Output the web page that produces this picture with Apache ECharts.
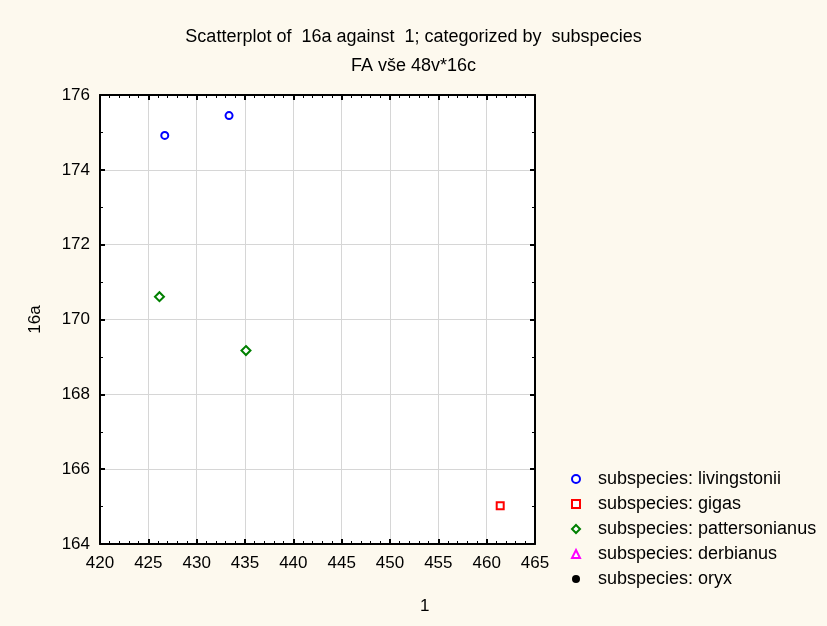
<!DOCTYPE html>
<html><head><meta charset="utf-8">
<script src="https://cdn.jsdelivr.net/npm/echarts@6/dist/echarts.min.js"></script>
<style>html,body{margin:0;padding:0;background:#fdf9ee;}#c{width:827px;height:626px;}</style>
</head><body><div id="c"></div>
<script>
var titleText = "Scatterplot of  16a against  1; categorized by  subspecies";
var subtitleText = "FA vše 48v*16c";
var xName = "1";
var yName = "16a";
var seriesNames = ["subspecies: livingstonii","subspecies: gigas","subspecies: pattersonianus","subspecies: derbianus","subspecies: oryx"];
var livingstonii = [[426.7,174.92],[433.35,175.45]];
var gigas = [[461.4,165.02]];
var pattersonianus = [[426.15,170.61],[435.1,169.17]];
var derbianus = [];
var oryx = [];
var xMin=420, xMax=465, xStep=5;
var yMin=164, yMax=176, yStep=2;

var font = "'Liberation Sans', Arial, sans-serif";
var chart = echarts.init(document.getElementById('c'));
function axisCommon(showLabel, minorSplit, margin){
  return {
    axisLine:{show:true,onZero:false,lineStyle:{color:'#000',width:2}},
    axisTick:{show:true,inside:true,length:5,lineStyle:{color:'#000',width:2}},
    minorTick:{show:true,splitNumber:minorSplit,length:3,lineStyle:{color:'#000',width:1}},
    axisLabel:{show:showLabel,color:'#000',fontSize:17,fontFamily:font,margin:margin},
    splitLine:{show:showLabel,lineStyle:{color:'#d6d6d6',width:1}}
  };
}
var xb = Object.assign({type:'value',position:'bottom',min:xMin,max:xMax,interval:xStep}, axisCommon(true,5,11));
var xt = Object.assign({type:'value',position:'top',min:xMin,max:xMax,interval:xStep}, axisCommon(false,5,8));
var yl = Object.assign({type:'value',position:'left',min:yMin,max:yMax,interval:yStep,name:yName,nameLocation:'middle',nameGap:56,nameTextStyle:{color:'#000',fontSize:17,fontFamily:font}}, axisCommon(true,2,10));
var yr = Object.assign({type:'value',position:'right',min:yMin,max:yMax,interval:yStep}, axisCommon(false,2,8));

function mk(name,data,symbol,size,fill,border,bw){
  return {type:'scatter',name:name,data:data,symbol:symbol,symbolSize:size,xAxisIndex:0,yAxisIndex:0,
    itemStyle:{color:fill,borderColor:border,borderWidth:bw,opacity:1},emphasis:{disabled:true},z:5};
}
chart.setOption({
  animation:false,
  backgroundColor:'#fdf9ee',
  title:[
    {text:titleText,left:'center',top:23,textStyle:{fontSize:18,fontWeight:'normal',color:'#000',fontFamily:font}},
    {text:subtitleText,left:'center',top:52,textStyle:{fontSize:18,fontWeight:'normal',color:'#000',fontFamily:font}}
  ],
  graphic:[{type:'text',left:420,top:598,style:{text:xName,fontSize:17,fontFamily:font,fill:'#000'}}],
  grid:{left:100,right:292,top:95,bottom:82,show:true,backgroundColor:'#ffffff',borderWidth:0},
  xAxis:[xb,xt],
  yAxis:[yl,yr],
  legend:{orient:'vertical',left:566,top:465,itemGap:7,itemWidth:8,itemHeight:8,
    textStyle:{fontSize:18,color:'#000',fontFamily:font,padding:[0,0,0,13]},
    data:seriesNames},
  series:[
    mk(seriesNames[0],livingstonii,'circle',7,'#fff','#0000ff',2),
    mk(seriesNames[1],gigas,'rect',7,'#fff','#ff0000',2),
    mk(seriesNames[2],pattersonianus,'diamond',9,'#fff','#008000',2),
    mk(seriesNames[3],derbianus,'triangle',7,'#fff','#ff00ff',1.5),
    mk(seriesNames[4],oryx,'circle',7,'#000','#000',0)
  ]
});
</script></body></html>
